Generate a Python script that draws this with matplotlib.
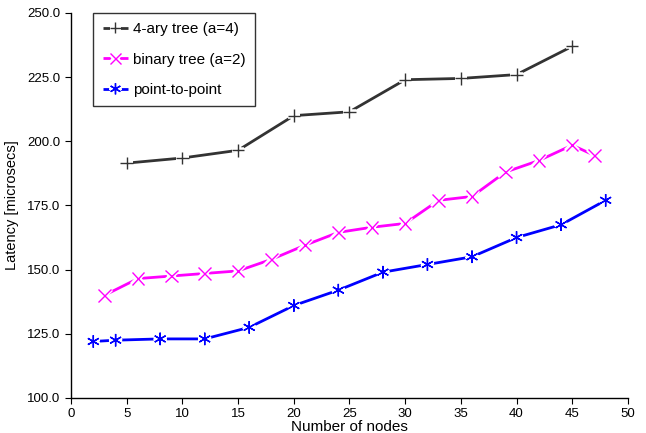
import matplotlib
matplotlib.use("Agg")
import matplotlib.pyplot as plt
import matplotlib.patheffects as pe
from matplotlib.ticker import FormatStrFormatter

plt.rcParams['font.family'] = ['Liberation Sans', 'DejaVu Sans']

# data
quad_x = [5, 10, 15, 20, 25, 30, 35, 40, 45]
quad_y = [191.5, 193.5, 196.5, 210.0, 211.5, 224.0, 224.5, 226.0, 237.0]

bin_x = [3, 6, 9, 12, 15, 18, 21, 24, 27, 30, 33, 36, 39, 42, 45, 47]
bin_y = [140.0, 146.5, 147.5, 148.5, 149.5, 154.0, 159.5, 164.5, 166.5, 168.0,
         177.0, 178.5, 188.0, 192.5, 198.5, 194.5]

p2p_x = [2, 4, 8, 12, 16, 20, 24, 28, 32, 36, 40, 44, 48]
p2p_y = [122.0, 122.5, 123.0, 123.0, 127.5, 136.0, 142.0, 149.0, 152.0, 155.0,
         162.5, 167.5, 177.0]

series = [
    ("4-ary tree (a=4)", quad_x, quad_y, "#333333", "+"),
    ("binary tree (a=2)", bin_x, bin_y, "#ff00ff", "x"),
    ("point-to-point", p2p_x, p2p_y, "#0000ff", (6, 2, 0)),
]

fig = plt.figure(figsize=(6.46, 4.33), dpi=100)
ax = fig.add_axes([0.110, 0.081, 0.862, 0.889])

gap = [pe.Stroke(linewidth=4, foreground="white"), pe.Normal()]
handles = []
for label, xs, ys, col, mk in series:
    ax.plot(xs, ys, color=col, lw=2.0, solid_capstyle="butt")
    ax.plot(xs, ys, ls="none", marker=mk, ms=9, mew=1.0, color=col,
            path_effects=gap)
    # legend handle: short line with the marker cut into it
    (h,) = ax.plot([], [], color=col, lw=2.0, marker=mk, ms=8, mew=1.0,
                   solid_capstyle="butt", path_effects=gap, label=label)
    handles.append(h)

ax.set_xlim(0, 50)
ax.set_ylim(100, 250)
ax.set_xticks(range(0, 51, 5))
ax.set_yticks([100, 125, 150, 175, 200, 225, 250])
ax.yaxis.set_major_formatter(FormatStrFormatter("%.1f"))
ax.tick_params(direction="out", length=4, labelsize=9.5, colors="black")
for s in ("top", "right"):
    ax.spines[s].set_visible(False)
for s in ("left", "bottom"):
    ax.spines[s].set_linewidth(1.0)

ax.set_xlabel("Number of nodes", fontsize=11, labelpad=0)
ax.set_ylabel("Latency [microsecs]", fontsize=10.5, labelpad=6)

leg = ax.legend(handles=handles, loc="upper left",
                bbox_to_anchor=(0.040, 1.0), frameon=True, fancybox=False,
                edgecolor="black", fontsize=11, handlelength=1.7,
                handletextpad=0.3, labelspacing=1.08, borderpad=0.6,
                borderaxespad=0.0)
leg.get_frame().set_linewidth(1.0)

fig.savefig("out.png", dpi=100)
